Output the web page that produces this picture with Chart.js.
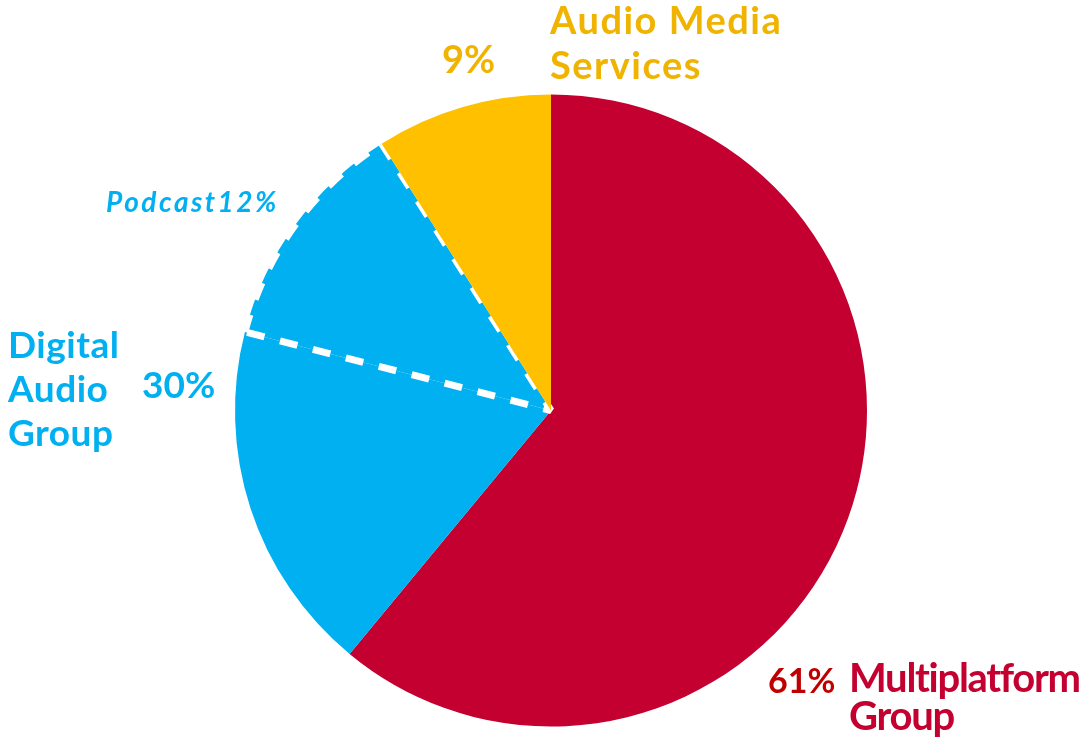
<!DOCTYPE html>
<html>
<head>
<meta charset="utf-8">
<script src="https://cdn.jsdelivr.net/npm/chart.js@4/dist/chart.umd.min.js"></script>
<style>
    body { margin: 0; background: #fff; }
    #wrap { position: relative; width: 1083px; height: 743px; overflow: hidden; }
    .lbl { position: absolute; font-family: Lato, sans-serif; font-weight: 700; white-space: nowrap; }
</style>
</head>
<body>
<div id="wrap">
    <canvas id="pieChart"></canvas>
    <div class="lbl" style="left:550px; top:-3px; font-size:38px; line-height:45px; letter-spacing:1.5px; color:#F0B400;">Audio Media<br>Services</div>
    <div class="lbl" style="left:442px; top:36px; font-size:38px; line-height:45px; color:#F0B400;">9%</div>
    <div class="lbl" style="left:106px; top:184px; font-size:28px; line-height:34px; font-style:italic; letter-spacing:2.5px; color:#00B0F0;">Podcast12%</div>
    <div class="lbl" style="left:8px; top:322px; font-size:37px; line-height:44px; letter-spacing:0.5px; color:#00B0F0;">Digital<br>Audio<br>Group</div>
    <div class="lbl" style="left:142px; top:362px; font-size:37px; line-height:44px; color:#00B0F0;">30%</div>
    <div class="lbl" style="left:768px; top:660px; font-size:34px; line-height:40px; color:#C00000;">61%</div>
    <div class="lbl" style="left:849px; top:658px; font-size:40px; line-height:38px; letter-spacing:-1.3px; color:#C3002F;">Multiplatform<br>Group</div>
</div>
<script>
const segments = ['Multiplatform Group', 'Digital Audio Group', 'Podcast', 'Audio Media Services'];
const shares = [61, 18, 12, 9];
const sliceColors = ['#C3002F', '#00B0F0', '#00B0F0', '#FFC000'];

new Chart(document.getElementById('pieChart'), {
    type: 'pie',
    data: {
        labels: segments,
        datasets: [{
            data: shares,
            backgroundColor: sliceColors,
            borderColor: '#ffffff',
            borderWidth: function (ctx) { return ctx.dataIndex === 2 ? 7 : 0; },
            borderDash: function (ctx) { return ctx.dataIndex === 2 ? [18, 16] : []; }
        }]
    },
    options: {
        responsive: true,
        maintainAspectRatio: false,
        animation: false,
        events: [],
        layout: { padding: { left: 19, right: 0, top: 91, bottom: 13 } },
        plugins: {
            legend: { display: false },
            tooltip: { enabled: false }
        }
    }
});
</script>
</body>
</html>
